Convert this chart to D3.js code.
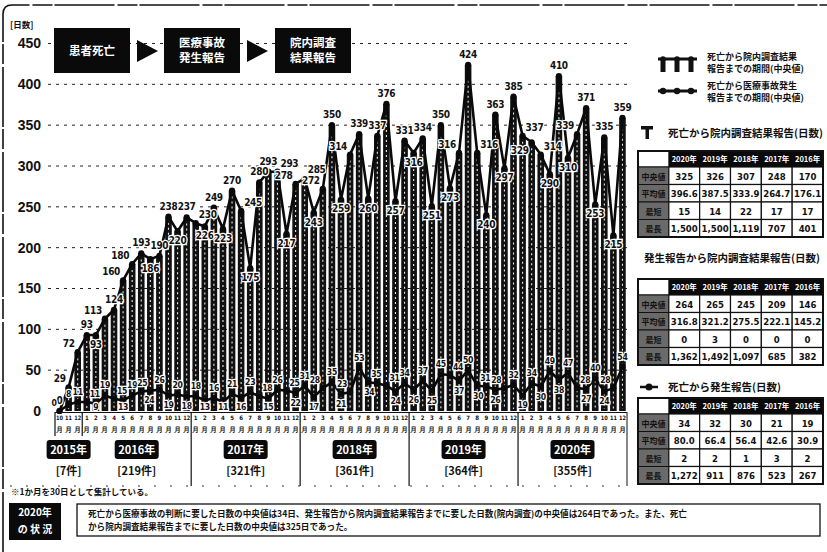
<!DOCTYPE html>
<html><head><meta charset="utf-8">
<script src="https://cdn.jsdelivr.net/npm/d3@7"></script>
<style>
body{margin:0;background:#fff;}
svg{display:block;font-family:"Noto Sans CJK JP","Noto Sans",sans-serif;font-weight:700;}
.num{font-family:"DejaVu Sans Condensed","DejaVu Sans",sans-serif;font-weight:700;}
</style></head><body>
<svg id="c" width="827" height="552"></svg>
<script>
// ---- data ----
const monthLabels = ["10","11","12",
 "1","2","3","4","5","6","7","8","9","10","11","12",
 "1","2","3","4","5","6","7","8","9","10","11","12",
 "1","2","3","4","5","6","7","8","9","10","11","12",
 "1","2","3","4","5","6","7","8","9","10","11","12",
 "1","2","3","4","5","6","7","8","9","10","11","12"];
const years = ["2015年","2016年","2017年","2018年","2019年","2020年"];
const yearCounts = ["[7件]","[219件]","[321件]","[361件]","[364件]","[355件]"];
// 死亡から院内調査結果報告までの期間(中央値)
const upper = [0,29,72,
 93,93,113,124,160,180,193,186,190,238,220,237,
 230,226,249,223,270,245,175,280,293,293,217,278,
 285,243,272,350,259,314,339,260,337,376,257,331,
 316,334,251,350,273,316,424,316,240,363,297,385,
 337,329,314,290,410,310,339,371,253,335,215,359];
// 死亡から医療事故発生報告までの期間(中央値)
const lower = [0,8,11,
 11,9,19,15,13,19,24,25,26,19,20,18,
 18,13,16,11,21,16,23,18,15,26,25,22,
 31,17,28,35,21,23,53,35,34,31,24,34,
 26,37,25,45,44,37,50,31,30,26,28,32,
 19,34,30,49,38,47,28,27,40,24,28,54];
const yTicks = [0,50,100,150,200,250,300,350,400,450];
const tableYears = ["2020年","2019年","2018年","2017年","2016年"];
const rowLabels = ["中央値","平均値","最短","最長"];
const tableTitles = ["死亡から院内調査結果報告(日数)","発生報告から院内調査結果報告(日数)","死亡から発生報告(日数)"];
const table1 = [["325","326","307","248","170"],["396.6","387.5","333.9","264.7","176.1"],["15","14","22","17","17"],["1,500","1,500","1,119","707","401"]];
const table2 = [["264","265","245","209","146"],["316.8","321.2","275.5","222.1","145.2"],["0","3","0","0","0"],["1,362","1,492","1,097","685","382"]];
const table3 = [["34","32","30","21","19"],["80.0","66.4","56.4","42.6","30.9"],["2","2","1","3","2"],["1,272","911","876","523","267"]];
const flowSteps = [["患者死亡"],["医療事故","発生報告"],["院内調査","結果報告"]];
const legendTexts = [["死亡から院内調査結果","報告までの期間(中央値)"],["死亡から医療事故発生","報告までの期間(中央値)"]];
const noteText = "※1か月を30日として集計している。";
const statusLabel = ["2020年","の 状 況"];
const statusText = ["死亡から医療事故の判断に要した日数の中央値は34日、発生報告から院内調査結果報告までに要した日数(院内調査)の中央値は264日であった。また、死亡","から院内調査結果報告までに要した日数の中央値は325日であった。"];

// ---- drawing ----
const svg = d3.select("#c");
const x = d3.scaleBand().domain(d3.range(upper.length)).range([55,627]);
const bw = x.bandwidth();
const cx = i => x(i)+bw/2;
const y = d3.scaleLinear().domain([0,450]).range([411,43.5]);

// outer frame
svg.append("path").attr("d","M3,552 L3,14 Q3,5 12,5 L827,5").attr("fill","none").attr("stroke","#111").attr("stroke-width",1.6).attr("stroke-dasharray","60,3,20,2");

// grid
svg.append("g").selectAll("line").data(yTicks.filter(t=>t>0)).join("line")
 .attr("x1",48).attr("x2",627).attr("y1",d=>y(d)).attr("y2",d=>y(d))
 .attr("stroke","#222").attr("stroke-width",1).attr("stroke-dasharray","3,5");

// y axis labels
const ya = svg.append("g").attr("transform","translate(41,0)").call(d3.axisLeft(y).tickValues(yTicks).tickSize(0).tickPadding(0));
ya.select(".domain").remove();
ya.selectAll("text").attr("font-size",14).attr("font-weight",700).attr("fill","#111").attr("font-family","Liberation Sans, Arial, sans-serif");
svg.append("text").attr("x",10).attr("y",28).attr("font-size",8.5).attr("fill","#111").text("[日数]");

// flow boxes
const flowX = [54,164,275];
flowSteps.forEach((s,i)=>{
  svg.append("rect").attr("x",flowX[i]).attr("y",28).attr("width",76).attr("height",45).attr("fill","#0a0a0a");
  s.forEach((t,j)=>{
    svg.append("text").attr("x",flowX[i]+38).attr("y",s.length===1?55:47+j*15).attr("text-anchor","middle")
      .attr("font-size",11.5).attr("fill","#fff").text(t);
  });
  if(i<2){
    const ax = flowX[i]+83;
    svg.append("path").attr("d",`M${ax},40 L${ax+21},51 L${ax},62 Z`).attr("fill","#0a0a0a");
  }
});

// bars
const bars = svg.append("g");
bars.selectAll("rect").data(upper).join("rect")
 .attr("x",(d,i)=>cx(i)-3.3).attr("width",6.6)
 .attr("y",d=>y(d)).attr("height",d=>y(0)-y(d)).attr("fill","#111");
bars.selectAll("line").data(upper).join("line")
 .attr("x1",(d,i)=>cx(i)).attr("x2",(d,i)=>cx(i))
 .attr("y1",d=>y(d)+6).attr("y2",y(0)-2)
 .attr("stroke","#e8e8e8").attr("stroke-width",1.1).attr("stroke-dasharray","2,3");

// baseline
svg.append("line").attr("x1",55).attr("x2",627).attr("y1",412.5).attr("y2",412.5).attr("stroke","#111").attr("stroke-width",1.2);

// lines
const line = d3.line().x((d,i)=>cx(i)).y(d=>y(d));
[lower,upper].forEach(series=>{
  svg.append("path").datum(series).attr("d",line).attr("fill","none").attr("stroke","#0a0a0a").attr("stroke-width",2.6).attr("stroke-linejoin","round");
  svg.append("g").selectAll("circle").data(series).join("circle")
   .attr("cx",(d,i)=>cx(i)).attr("cy",d=>y(d)).attr("r",3.1).attr("fill","#0a0a0a");
});

// value labels with simple collision avoidance
const placed = [];
function box(px,py,a,w,h){
  const x0 = a==="middle"?px-w/2:(a==="end"?px-w:px);
  return {x0:x0,x1:x0+w,y0:py-h*0.8,y1:py+h*0.15};
}
function hits(b){ return placed.some(p=>b.x0<p.x1 && b.x1>p.x0 && b.y0<p.y1 && b.y1>p.y0); }
function labels(series,size){
  const g = svg.append("g");
  series.forEach((v,i)=>{
    const p=series[i-1], n=series[i+1];
    const X=cx(i), Y=y(v);
    const up={x:X,y:Y-7,a:"middle"}, dn={x:X,y:Math.min(Y+13,409.5),a:"middle"};
    const la={x:X-3,y:Y-5,a:"end"}, ra={x:X+3,y:Y-5,a:"start"};
    const ld={x:X-3,y:Math.min(Y+12,409.5),a:"end"}, rd={x:X+3,y:Math.min(Y+12,409.5),a:"start"};
    let order;
    if(p===undefined||n===undefined) order=[up,la,ra,dn];
    else if(v>=p&&v>=n) order=[up,la,ra,dn];
    else if(v<=p&&v<=n) order=[dn,ld,rd,up];
    else if(p<v) order=[la,up,rd,dn];
    else order=[ra,up,ld,dn];
    const w = String(v).length*size*0.56, h=size;
    let c = order.find(o=>!hits(box(o.x,o.y,o.a,w,h))) || order[0];
    placed.push(box(c.x,c.y,c.a,w,h));
    g.append("text").attr("class","num").attr("x",c.x).attr("y",c.y).attr("text-anchor",c.a)
     .attr("font-size",size).attr("fill","#111").attr("letter-spacing",-0.3)
     .attr("stroke","#fff").attr("stroke-width",2.4).attr("paint-order","stroke").text(v);
  });
}
labels(upper,10);
labels(lower,8.6);

// x axis month labels
const xa = svg.append("g").attr("transform","translate(0,413)").call(d3.axisBottom(x).tickFormat(i=>monthLabels[i]).tickSize(0).tickPadding(3));
xa.select(".domain").remove();
xa.selectAll("text").attr("font-size",6).attr("font-weight",700).attr("fill","#111").attr("font-family","DejaVu Sans Condensed, sans-serif")
  .each(function(i){ if(monthLabels[i].length>1) d3.select(this).attr("textLength",7).attr("lengthAdjust","spacingAndGlyphs"); });
const xa2 = svg.append("g").attr("transform","translate(0,424)").call(d3.axisBottom(x).tickFormat(()=>"月").tickSize(0).tickPadding(3));
xa2.select(".domain").remove();
xa2.selectAll("text").attr("font-size",6.5).attr("font-weight",700).attr("fill","#111");

// year blocks
const starts = [0]; monthLabels.forEach((m,i)=>{ if(i>0 && m==="1") starts.push(i); });
const ends = starts.slice(1).concat([monthLabels.length]);
starts.forEach((s,k)=>{
  const x0 = x(s), x1 = x(ends[k]-1)+bw;
  svg.append("line").attr("x1",x0).attr("x2",x0).attr("y1",412).attr("y2",k<2?436:486).attr("stroke","#111").attr("stroke-width",1.2);
  const mid = (x0+x1)/2;
  svg.append("rect").attr("x",mid-22).attr("y",440).attr("width",44).attr("height",19).attr("rx",3).attr("fill","#0a0a0a");
  svg.append("text").attr("x",mid).attr("y",454).attr("text-anchor","middle").attr("font-size",11).attr("fill","#fff").text(years[k]);
  svg.append("text").attr("x",mid).attr("y",475).attr("text-anchor","middle").attr("font-size",11).attr("fill","#111").text(yearCounts[k]);
});
svg.append("line").attr("x1",627).attr("x2",627).attr("y1",412).attr("y2",486).attr("stroke","#111").attr("stroke-width",1);
svg.append("line").attr("x1",10).attr("x2",627).attr("y1",486).attr("y2",486).attr("stroke","#333").attr("stroke-width",1).attr("stroke-dasharray","2,14");

// legend
const lg = svg.append("g");
lg.append("line").attr("x1",658).attr("x2",697).attr("y1",59).attr("y2",59).attr("stroke","#111").attr("stroke-width",3);
[663,677,691].forEach(v=>lg.append("rect").attr("x",v-2.5).attr("y",59).attr("width",5).attr("height",13).attr("fill","#111"));
[663,677,691].forEach(v=>lg.append("circle").attr("cx",v).attr("cy",59).attr("r",2.8).attr("fill","#111"));
lg.append("line").attr("x1",658).attr("x2",697).attr("y1",91).attr("y2",91).attr("stroke","#111").attr("stroke-width",3);
[663,677,691].forEach(v=>lg.append("circle").attr("cx",v).attr("cy",91).attr("r",3.2).attr("fill","#111"));
legendTexts.forEach((t,k)=>{
  t.forEach((s,j)=>lg.append("text").attr("x",707).attr("y",(k?89:60)+j*11.5).attr("font-size",9).attr("fill","#111").text(s));
});

// tables
const tops = [151,279,398];
const titleY = [137,262,391];
const tables = [table1,table2,table3];
const colX = d3.scaleBand().domain(d3.range(6)).range([638,823]);
tables.forEach((tb,k)=>{
  const g = svg.append("g");
  if(k===0){
    g.append("rect").attr("x",641).attr("y",titleY[0]-11).attr("width",12).attr("height",3.5).attr("fill","#111");
    g.append("rect").attr("x",645.5).attr("y",titleY[0]-11).attr("width",3.5).attr("height",13).attr("fill","#111");
  } else if(k===2){
    g.append("line").attr("x1",640).attr("x2",658).attr("y1",titleY[2]-4).attr("y2",titleY[2]-4).attr("stroke","#111").attr("stroke-width",2.5);
    g.append("circle").attr("cx",649).attr("cy",titleY[2]-4).attr("r",3.5).attr("fill","#111");
  }
  g.append("text").attr("x",k===1?644:668).attr("y",titleY[k]).attr("font-size",10.5).attr("fill","#111").text(tableTitles[k]);
  const t0 = tops[k], hh = 16, rh = 17.5;
  const cw = colX.bandwidth();
  g.append("rect").attr("x",638).attr("y",t0).attr("width",185).attr("height",hh).attr("fill","#0a0a0a");
  g.append("rect").attr("x",638.5).attr("y",t0+0.5).attr("width",cw-1).attr("height",hh-1).attr("fill","#fff");
  tableYears.forEach((yy,c)=>g.append("text").attr("x",colX(c+1)+cw/2).attr("y",t0+11).attr("text-anchor","middle").attr("font-size",7.5).attr("fill","#fff").text(yy));
  tb.forEach((row,r)=>{
    const ry = t0+hh+r*rh;
    g.append("rect").attr("x",638).attr("y",ry).attr("width",cw).attr("height",rh).attr("fill","#6a6a6a").attr("stroke","#111");
    g.append("text").attr("x",638+cw/2).attr("y",ry+12.5).attr("text-anchor","middle").attr("font-size",8).attr("fill","#111").text(rowLabels[r]);
    row.forEach((v,c)=>{
      g.append("rect").attr("x",colX(c+1)).attr("y",ry).attr("width",cw).attr("height",rh).attr("fill","#fff").attr("stroke","#111").attr("stroke-width",1.2);
      g.append("text").attr("class","num").attr("x",colX(c+1)+cw/2).attr("y",ry+12.5).attr("text-anchor","middle").attr("font-size",9.5).attr("fill","#111").text(v);
    });
  });
  g.append("rect").attr("x",638).attr("y",t0).attr("width",185).attr("height",hh+4*rh).attr("fill","none").attr("stroke","#111").attr("stroke-width",2);
});

// footer
svg.append("text").attr("x",11).attr("y",495).attr("font-size",8.5).attr("fill","#111").text(noteText);
svg.append("rect").attr("x",9).attr("y",503).attr("width",52).attr("height",37).attr("fill","#0a0a0a");
statusLabel.forEach((s,j)=>svg.append("text").attr("x",35).attr("y",516+j*17).attr("text-anchor","middle").attr("font-size",10).attr("fill","#fff").text(s));
svg.append("rect").attr("x",77).attr("y",504).attr("width",743).attr("height",32).attr("fill","#fff").attr("stroke","#111").attr("stroke-width",1.3);
statusText.forEach((s,j)=>svg.append("text").attr("x",88).attr("y",517+j*13).attr("font-size",8.6).attr("fill","#111").text(s));
</script>
</body></html>
